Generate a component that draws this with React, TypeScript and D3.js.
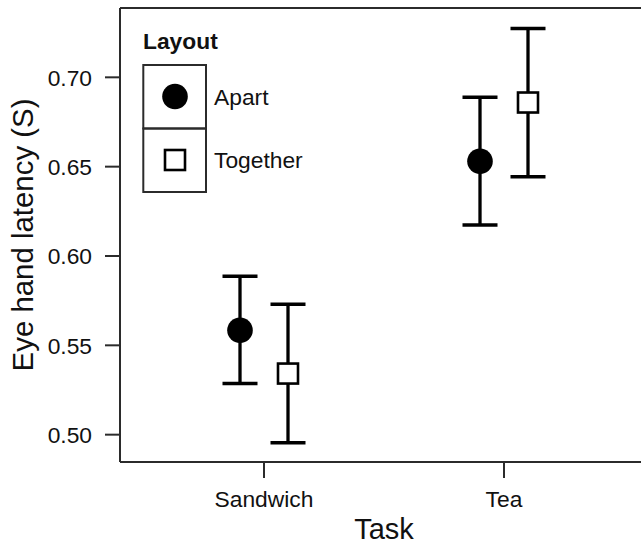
import React from "react";
import * as d3 from "d3";

const tasks = ["Sandwich", "Tea"];
const layouts = ["Apart", "Together"];
const means = { Apart: [0.5584, 0.653], Together: [0.5342, 0.6859] };
const lowers = { Apart: [0.5286, 0.6173], Together: [0.4955, 0.6444] };
const uppers = { Apart: [0.5887, 0.6888], Together: [0.573, 0.7273] };
const yTicks = [0.5, 0.55, 0.6, 0.65, 0.7];

const W = 641;
const H = 551;
const FONT = "'Liberation Sans', Arial, Helvetica, sans-serif";

export default function App() {
  const left = 120, top = 8, bottom = 462, right = 648;
  const x = d3.scaleLinear().domain([0.4, 2.6]).range([left, right]);
  const y = d3.scaleLinear().domain([0.7388, 0.4847]).range([top, bottom]);
  const dodge = 0.1;
  const offs: Record<string, number> = { Apart: -dodge, Together: dodge };
  const capHalf = 17.5;
  const axisColor = "#2b2b2b";
  const small = 22.8;

  return (
    <svg width={W} height={H} style={{ position: "absolute", left: 0, top: 0, background: "#fff" }}
      fontFamily={FONT}>
      <rect x={0} y={0} width={W} height={H} fill="#fff" />
      <line x1={left} x2={right} y1={top} y2={top} stroke={axisColor} strokeWidth={2} />
      <line x1={left} x2={right} y1={bottom} y2={bottom} stroke={axisColor} strokeWidth={2} />
      <line x1={left} x2={left} y1={top} y2={bottom} stroke={axisColor} strokeWidth={2} />
      {yTicks.map((t) => (
        <g key={t}>
          <line x1={left - 15} x2={left} y1={y(t)} y2={y(t)} stroke={axisColor} strokeWidth={2} />
          <text x={92} y={y(t)} dy="0.36em" textAnchor="end" fontSize={small} fill="#111">
            {d3.format(".2f")(t)}
          </text>
        </g>
      ))}
      {tasks.map((t, i) => (
        <g key={t}>
          <line x1={x(i + 1)} x2={x(i + 1)} y1={bottom} y2={bottom + 16} stroke={axisColor} strokeWidth={2} />
          <text x={x(i + 1)} y={507} textAnchor="middle" fontSize={small} fill="#111">{t}</text>
        </g>
      ))}
      <text x={(left + right) / 2} y={539} textAnchor="middle" fontSize={29} fill="#111">Task</text>
      <text transform={`translate(33,${(top + bottom) / 2}) rotate(-90)`} textAnchor="middle" fontSize={29.4} fill="#111">
        Eye hand latency (S)
      </text>
      {layouts.map((l) =>
        tasks.map((t, i) => {
          const cx = x(i + 1 + offs[l]);
          const lo = y(lowers[l][i]);
          const hi = y(uppers[l][i]);
          const m = y(means[l][i]);
          return (
            <g key={l + t}>
              <line x1={cx} x2={cx} y1={hi} y2={lo} stroke="#000" strokeWidth={3.3} />
              <line x1={cx - capHalf} x2={cx + capHalf} y1={hi} y2={hi} stroke="#000" strokeWidth={3.5} />
              <line x1={cx - capHalf} x2={cx + capHalf} y1={lo} y2={lo} stroke="#000" strokeWidth={3.5} />
              {l === "Apart" ? (
                <circle cx={cx} cy={m} r={12.8} fill="#000" />
              ) : (
                <rect x={cx - 10} y={m - 10} width={20} height={20} fill="#fff" stroke="#000" strokeWidth={2.6} />
              )}
            </g>
          );
        })
      )}
      <text x={143} y={49} fontSize={small} fontWeight="bold" fill="#111">Layout</text>
      {layouts.map((l, i) => {
        const by = 65 + i * 63.5;
        const cy = by + 31.5;
        return (
          <g key={l}>
            <rect x={143.3} y={by} width={62.7} height={63.5} fill="none" stroke={axisColor} strokeWidth={2} />
            {l === "Apart" ? (
              <circle cx={175} cy={cy} r={12.8} fill="#000" />
            ) : (
              <rect x={175 - 10} y={cy - 10} width={20} height={20} fill="#fff" stroke="#000" strokeWidth={2.6} />
            )}
            <text x={214} y={cy} dy="0.36em" fontSize={small} fill="#111">{l}</text>
          </g>
        );
      })}
    </svg>
  );
}
